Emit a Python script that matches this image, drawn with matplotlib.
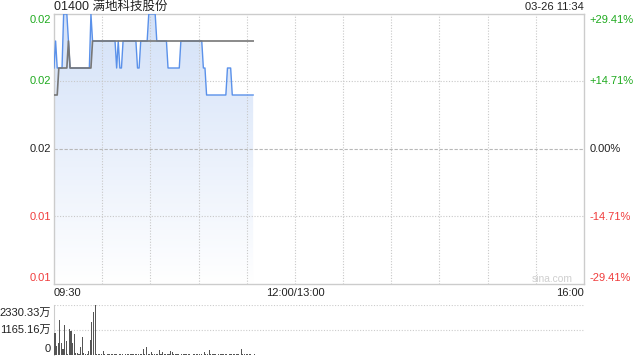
import numpy as np
import matplotlib
matplotlib.use('Agg')
import matplotlib.pyplot as plt
from matplotlib.transforms import ScaledTranslation
from matplotlib.patches import Polygon
from matplotlib.colors import LinearSegmentedColormap

plt.rcParams['font.family'] = ['Liberation Sans', 'Noto Sans CJK SC', 'DejaVu Sans']

# ---------------- data ----------------
title = '01400 满地科技股份'
stamp = '03-26 11:34'
price_ticks = [0.022, 0.0195, 0.017, 0.0145, 0.012]
price_labels = ['0.02', '0.02', '0.02', '0.01', '0.01']
pct_labels = ['+29.41%', '+14.71%', '0.00%', '-14.71%', '-29.41%']
label_colors = ['#1faa1f', '#1faa1f', '#222222', '#f03c3c', '#f03c3c']
x_ticks = [0, 150, 330]
x_labels = ['09:30', '12:00/13:00', '16:00']
grid_minutes = [30, 60, 90, 120, 150, 180, 210, 240, 270, 300]

# price per minute, in thousandths of HKD
price_milli = [
    20, 21, 20, 20, 20, 20, 22, 22, 22, 21,
    20, 20, 20, 20, 20, 20, 20, 20, 20, 20,
    20, 20, 20, 22, 21, 21, 21, 21, 21, 21,
    21, 21, 21, 21, 21, 21, 21, 21, 21, 20,
    21, 20, 20, 21, 21, 21, 21, 21, 21, 21,
    21, 21, 20, 20, 21, 21, 21, 21, 21, 22,
    22, 22, 22, 22, 21, 21, 21, 21, 21, 21,
    21, 20, 20, 20, 20, 20, 20, 20, 20, 21,
    21, 21, 21, 21, 21, 21, 21, 21, 21, 21,
    21, 21, 21, 20, 20, 19, 19, 19, 19, 19,
    19, 19, 19, 19, 19, 19, 19, 19, 20, 20,
    20, 19, 19, 19, 19, 19, 19, 19, 19, 19,
    19, 19, 19, 19, 19,
]
avg_milli = [
    19, 19, 19, 20, 20, 20, 20, 20, 20, 21,
    20, 20, 20, 20, 20, 20, 20, 20, 20, 20,
    20, 20, 20, 20, 21, 21, 21, 21, 21, 21,
    21, 21, 21, 21, 21, 21, 21, 21, 21, 21,
    21, 21, 21, 21, 21, 21, 21, 21, 21, 21,
    21, 21, 21, 21, 21, 21, 21, 21, 21, 21,
    21, 21, 21, 21, 21, 21, 21, 21, 21, 21,
    21, 21, 21, 21, 21, 21, 21, 21, 21, 21,
    21, 21, 21, 21, 21, 21, 21, 21, 21, 21,
    21, 21, 21, 21, 21, 21, 21, 21, 21, 21,
    21, 21, 21, 21, 21, 21, 21, 21, 21, 21,
    21, 21, 21, 21, 21, 21, 21, 21, 21, 21,
    21, 21, 21, 21, 21,
]
# volume per minute, in 万
volume_wan = [
    1010, 420, 575, 1630, 545, 265, 1400, 650, 30, 1200,
    1130, 575, 980, 80, 80, 30, 360, 855, 80, 45,
    30, 185, 700, 1540, 2000, 2330.33, 45, 40, 30, 25,
    190, 30, 20, 35, 25, 30, 40, 25, 30, 20,
    30, 25, 35, 20, 30, 25, 30, 40, 30, 25,
    35, 30, 25, 40, 30, 280, 30, 370, 40, 30,
    140, 30, 25, 35, 30, 230, 30, 140, 30, 25,
    35, 30, 190, 140, 30, 25, 35, 30, 20, 30,
    25, 30, 35, 25, 30, 20, 30, 25, 30, 35,
    25, 30, 20, 140, 30, 25, 230, 30, 25, 35,
    30, 20, 30, 25, 35, 30, 25, 30, 20, 30,
    25, 35, 30, 25, 30, 20, 280, 30, 25, 35,
    30, 25, 30, 20, 30,
]
vol_ticks = [2330.33, 1165.16, 0]
vol_labels = ['2330.33万', '1165.16万', '0']

# ---------------- figure ----------------
fig = plt.figure(figsize=(6.4, 3.6), dpi=100)
W, H = 640, 360
L, R = 54, 584
ax = fig.add_axes([L / W, (H - 284) / H, (R - L) / W, 270 / H])
axv = fig.add_axes([L / W, (H - 355) / H, (R - L) / W, 50 / H])

x = np.arange(len(price_milli))
price = np.array(price_milli) / 1000.0
avg = np.array(avg_milli) / 1000.0
ylo, yhi = price_ticks[-1], price_ticks[0]

# gradient fill
verts = [(x[0], ylo)] + list(zip(x, price)) + [(x[-1], ylo)]
poly = Polygon(verts, closed=True, facecolor='none', edgecolor='none')
ax.add_patch(poly)
cmap = LinearSegmentedColormap.from_list('g', ['#ffffff', '#d3e1f8'])
grad = np.linspace(1, 0, 256).reshape(-1, 1)
im = ax.imshow(grad, extent=[x[0], x[-1], ylo, yhi], aspect='auto', cmap=cmap,
               vmin=0, vmax=1, zorder=1, interpolation='bilinear')
im.set_clip_path(poly)

# grid (drawn over the fill)
for m in grid_minutes:
    ax.axvline(m, color='#c8c8c8', lw=0.8, ls=(0, (1, 1.5)), zorder=2)
for v in price_ticks[1:-1]:
    if v == price_ticks[2]:
        ax.axhline(v, color='#b8b8b8', lw=0.8, ls=(0, (3, 1.5)), zorder=2)
    else:
        ax.axhline(v, color='#c8c8c8', lw=0.8, ls=(0, (1, 1.5)), zorder=2)

ax.plot(x, price, color='#5a91ea', lw=1.0, zorder=3)
ax.plot(x, avg, color='#777777', lw=1.2, zorder=4)

ax.set_xlim(0, 330)
ax.set_ylim(ylo, yhi)
ax.set_xticks([])
ax.set_yticks([])
for s in ax.spines.values():
    s.set_color('#cccccc')
    s.set_linewidth(1.0)

ytr = ax.get_yaxis_transform()
offsets_px = [-6, 0, 0, 0, 6]
for v, lab, pl, c, dy in zip(price_ticks, price_labels, pct_labels, label_colors, offsets_px):
    off = ScaledTranslation(0, dy / 100.0, fig.dpi_scale_trans)
    ax.text(-0.006, v, lab, transform=ytr + off, ha='right', va='center',
            fontsize=8, color=c)
    ax.text(1.011, v, pl, transform=ytr + off, ha='left', va='center',
            fontsize=8, color=c)

xtr = ax.get_xaxis_transform()
offx = ScaledTranslation(0, -9 / 100.0, fig.dpi_scale_trans)
for m, lab, ha in zip(x_ticks, x_labels, ['left', 'center', 'right']):
    ax.text(m, 0, lab, transform=xtr + offx, ha=ha, va='center', fontsize=8,
            color='#222222')

ax.text(0.979, 0.0185, 'sina.com', transform=ax.transAxes, ha='right', va='center',
        fontsize=7.4, color='#cfcfcf')

fig.text(L / W, 1 - 7 / H, title, ha='left', va='center', fontsize=9, color='#222222')
fig.text(R / W, 1 - 7 / H, stamp, ha='right', va='center', fontsize=8, color='#222222')

# volume
axv.bar(x + 0.6, volume_wan, width=0.7, color='#555555', linewidth=0, zorder=3)
axv.set_xlim(0, 330)
axv.set_ylim(0, vol_ticks[0])
axv.set_xticks([])
axv.set_yticks([])
for k in ['top', 'right', 'bottom']:
    axv.spines[k].set_visible(False)
axv.spines['left'].set_color('#cccccc')
for v in vol_ticks[:2]:
    axv.axhline(v, color='#cccccc', lw=0.8, ls=(0, (1, 1.5)), zorder=0.5)
vtr = axv.get_yaxis_transform()
for v, lab, dy in zip(vol_ticks, vol_labels, [-8, 0, 6]):
    off = ScaledTranslation(0, dy / 100.0, fig.dpi_scale_trans)
    axv.text(-0.006, v, lab, transform=vtr + off, ha='right', va='center',
             fontsize=8, color='#222222')

fig.savefig('out.png', dpi=100)
